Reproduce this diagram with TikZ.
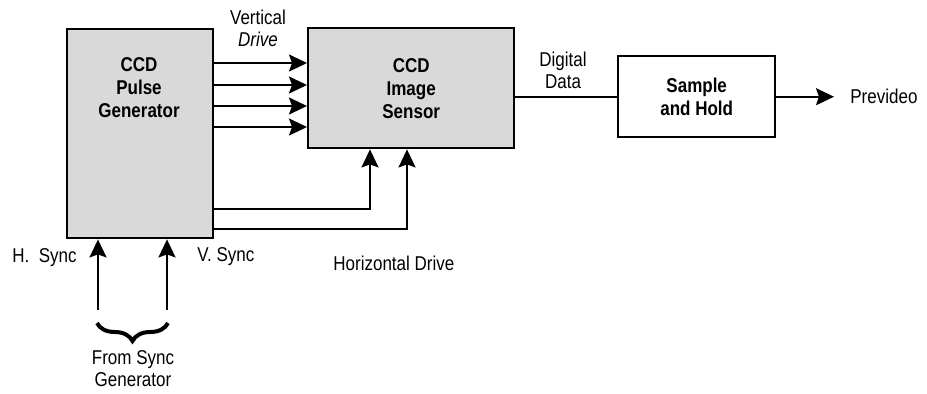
\documentclass[tikz,border=0pt]{standalone}
\usepackage{fontspec}
\setmainfont{Liberation Sans}[FakeStretch=0.85]
\usetikzlibrary{arrows.meta,positioning,decorations.pathreplacing}

\begin{document}
\begin{tikzpicture}[x=0.5pt,y=-0.5pt,
    block/.style={draw, line width=1.2pt, inner sep=0pt, anchor=north west},
    sig/.style={line width=1pt, -{Stealth[length=9pt,width=8.5pt,inset=1.5pt]}},
    wire/.style={line width=1pt},
    lbl/.style={font=\fontsize{10}{11}\selectfont, align=center, inner sep=0pt},
    btxt/.style={font=\fontsize{10}{11.5}\selectfont\bfseries, align=center, inner sep=0pt}]
    \useasboundingbox (0,0) rectangle (927,393);
    % blocks
    \node[block, fill=black!15, minimum width=73pt, minimum height=104.5pt] (pulsegen) at (66,28) {};
    \node[btxt] (pulsetxt) at (139,88) {CCD\\Pulse\\Generator};
    \node[block, fill=black!15, minimum width=103pt, minimum height=60pt] (sensor) at (307,27) {};
    \node[btxt] (sensortxt) at (sensor.center) {CCD\\Image\\Sensor};
    \node[block, fill=white, minimum width=78.5pt, minimum height=40.5pt] (sh) at (617,55) {};
    \node[btxt] (shtxt) at (sh.center) {Sample\\and Hold};
    % vertical drive
    \foreach \y in {63,85,106,127}
      \draw[sig] (pulsegen.east |- 0,\y) -- (sensor.west |- 0,\y);
    \node[lbl] (vd) at (258,28) {Vertical\\\textit{Drive}};
    % horizontal drive
    \draw[sig] (pulsegen.east |- 0,209) -| (sensor.south -| 370,0);
    \draw[sig] (pulsegen.east |- 0,229) -| (sensor.south -| 407,0);
    \node[lbl, anchor=west] (hd) at (333,263) {Horizontal Drive};
    % data out
    \draw[wire] (sensor.east |- sh.west) -- (sh.west);
    \node[lbl] (dd) at (563,70) {Digital\\Data};
    \node[lbl, anchor=west, inner xsep=8pt] (prev) at (sh.east -| 834,0) {Prevideo};
    \draw[sig] (sh.east) -- (prev.west);
    % sync inputs
    \coordinate (hs) at (98,310);
    \coordinate (vs) at (167,310);
    \draw[sig] (hs) -- (pulsegen.south -| hs);
    \draw[sig] (vs) -- (pulsegen.south -| vs);
    \node[lbl, anchor=west] (hsync) at (12,258) {H.\ \ Sync};
    \node[lbl, anchor=west] (vsync) at (197,257) {V. Sync};
    \draw[line width=2pt, decorate, decoration={brace, mirror, amplitude=9pt}] (97,323) -- (168,323);
    \node[lbl] (from) at (133,369) {From Sync\\Generator};
\end{tikzpicture}
\end{document}
